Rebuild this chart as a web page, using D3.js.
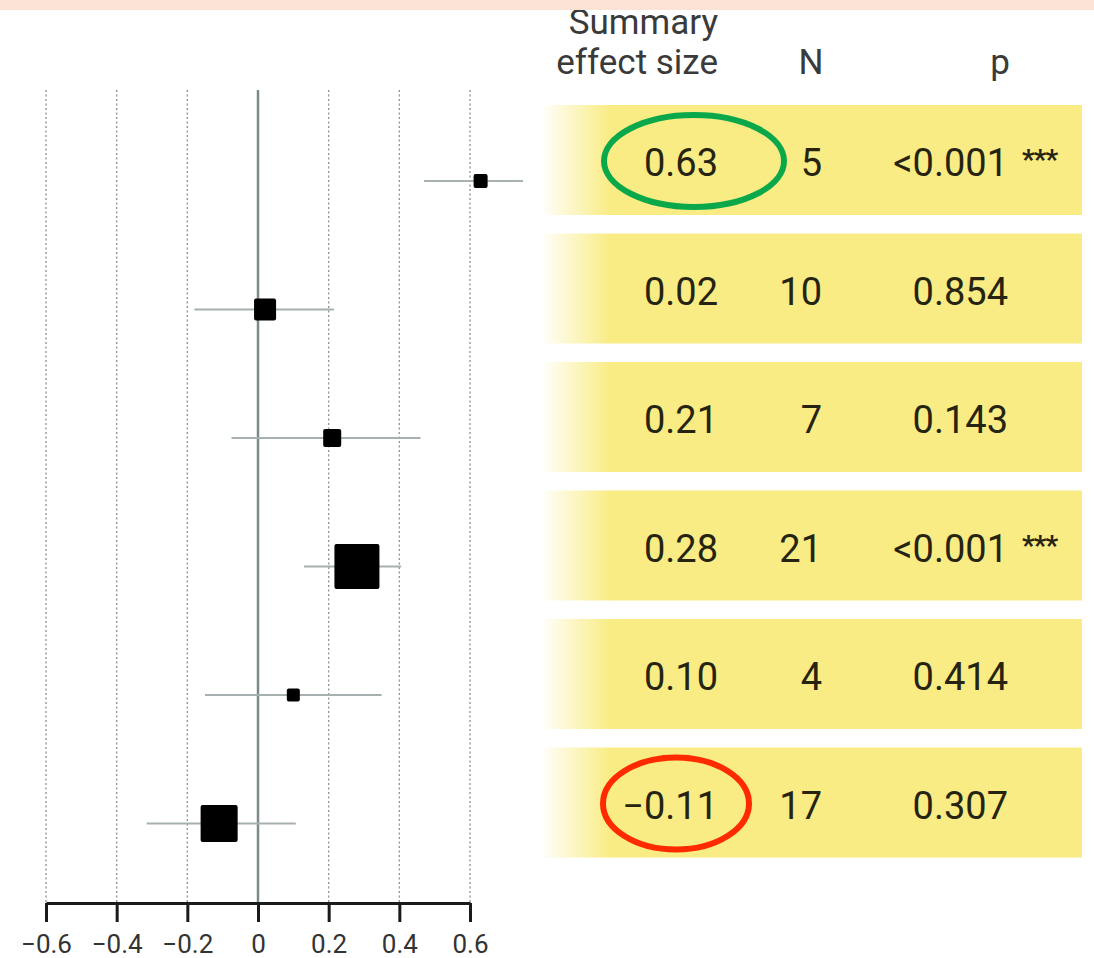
<!DOCTYPE html>
<html>
<head>
<meta charset="utf-8">
<script src="https://cdn.jsdelivr.net/npm/d3@7"></script>
<style>
  html, body { margin: 0; padding: 0; background: #fff; }
  svg { display: block; font-family: Roboto, "Noto Sans", sans-serif; }
</style>
</head>
<body>
<svg id="chart" width="1094" height="958"></svg>
<script>
// summary effect per subgroup
const effects = [0.63, 0.02, 0.21, 0.28, 0.10, -0.11];
const ciLow = [0.47, -0.18, -0.075, 0.13, -0.15, -0.315];
const ciHigh = [0.75, 0.215, 0.46, 0.405, 0.35, 0.107];
const weights = [4.3, 10.6, 7.1, 44.3, 3.7, 30.0];
const nStudies = [5, 10, 7, 21, 4, 17];
const pLabels = ["<0.001", "0.854", "0.143", "<0.001", "0.414", "0.307"];
const stars = ["***", "", "", "***", "", ""];
const xTicks = [-0.6, -0.4, -0.2, 0, 0.2, 0.4, 0.6];
const headers = ["N", "p"];

const W = 1094, H = 958;
const svg = d3.select("#chart");

const x = d3.scaleLinear().domain([-0.6, 0.6]).range([46, 470]);
const rowY = d3.scalePoint().domain(d3.range(effects.length)).range([160, 802.5]);
const size = d3.scaleSqrt().domain([0, 44.3]).range([0, 45]);
const plotTop = 90, axisY = 903;
const markOffset = 21; // squares sit a little below row centre

// yellow fade for table rows
const defs = svg.append("defs");
const grad = defs.append("linearGradient").attr("id", "rowFade")
  .attr("gradientUnits", "userSpaceOnUse").attr("x1", 540).attr("x2", 1082);
grad.append("stop").attr("offset", 0).attr("stop-color", "#f9ec84").attr("stop-opacity", 0);
grad.append("stop").attr("offset", 0.13).attr("stop-color", "#f9ec84").attr("stop-opacity", 1);
grad.append("stop").attr("offset", 1).attr("stop-color", "#f9ec84").attr("stop-opacity", 1);

svg.append("g").selectAll("rect")
  .data(effects)
  .join("rect")
  .attr("x", 540)
  .attr("y", (d, i) => rowY(i) - 55)
  .attr("width", 542)
  .attr("height", 110)
  .attr("fill", "url(#rowFade)");

// gridlines
svg.append("g").selectAll("line")
  .data(xTicks.filter(t => t !== 0))
  .join("line")
  .attr("x1", d => x(d)).attr("x2", d => x(d))
  .attr("y1", plotTop).attr("y2", axisY)
  .attr("stroke", "#8f9696")
  .attr("stroke-width", 1.4)
  .attr("stroke-dasharray", "2,2.5");

svg.append("line")
  .attr("x1", x(0)).attr("x2", x(0))
  .attr("y1", plotTop).attr("y2", axisY)
  .attr("stroke", "#7d8a8a")
  .attr("stroke-width", 2.5);

// axis
const axis = d3.axisBottom(x)
  .tickValues(xTicks)
  .tickSize(19)
  .tickSizeOuter(0)
  .tickPadding(13)
  .tickFormat(d => d === 0 ? "0" : d3.format(".1f")(d));

const gx = svg.append("g")
  .attr("transform", `translate(0,${axisY})`)
  .call(axis);
gx.select(".domain").attr("stroke", "#1a1a1a").attr("stroke-width", 3);
gx.selectAll(".tick line").attr("stroke", "#1a1a1a").attr("stroke-width", 3);
gx.selectAll(".tick text")
  .attr("font-size", 26)
  .attr("font-family", "Roboto, sans-serif")
  .attr("fill", "#333");

// confidence intervals
svg.append("g").selectAll("line")
  .data(effects)
  .join("line")
  .attr("x1", (d, i) => x(ciLow[i]))
  .attr("x2", (d, i) => x(ciHigh[i]))
  .attr("y1", (d, i) => rowY(i) + markOffset)
  .attr("y2", (d, i) => rowY(i) + markOffset)
  .attr("stroke", "#a7b0b0")
  .attr("stroke-width", 2.2);

// effect squares
svg.append("g").selectAll("rect")
  .data(effects)
  .join("rect")
  .attr("x", (d, i) => x(d) - size(weights[i]) / 2)
  .attr("y", (d, i) => rowY(i) + markOffset - size(weights[i]) / 2)
  .attr("width", (d, i) => size(weights[i]))
  .attr("height", (d, i) => size(weights[i]))
  .attr("rx", 2)
  .attr("fill", "#000");

// table text
const fmtEffect = d => d3.format(".2f")(d);
const table = svg.append("g")
  .attr("font-size", 38)
  .attr("fill", "#262410");

table.selectAll("text.eff")
  .data(effects)
  .join("text")
  .attr("class", "eff")
  .attr("x", 718)
  .attr("y", (d, i) => rowY(i) + 16)
  .attr("text-anchor", "end")
  .text(fmtEffect);

table.selectAll("text.n")
  .data(nStudies)
  .join("text")
  .attr("class", "n")
  .attr("x", 822)
  .attr("y", (d, i) => rowY(i) + 16)
  .attr("text-anchor", "end")
  .text(d => d);

table.selectAll("text.p")
  .data(pLabels)
  .join("text")
  .attr("class", "p")
  .attr("x", 1008)
  .attr("y", (d, i) => rowY(i) + 16)
  .attr("text-anchor", "end")
  .text(d => d);

table.selectAll("text.star")
  .data(stars)
  .join("text")
  .attr("class", "star")
  .attr("x", 1022)
  .attr("y", (d, i) => rowY(i) + 9)
  .attr("font-size", 28)
  .attr("font-weight", "bold")
  .attr("letter-spacing", -1)
  .text(d => d);

// headers
const hdr = svg.append("g").attr("font-size", 35).attr("fill", "#3a3a3a");
hdr.append("text").attr("x", 718).attr("y", 34).attr("text-anchor", "end").text("Summary");
hdr.append("text").attr("x", 718).attr("y", 74).attr("text-anchor", "end").text("effect size");
hdr.selectAll("text.col")
  .data(headers)
  .join("text")
  .attr("class", "col")
  .attr("x", (d, i) => [811, 1000][i])
  .attr("y", 74)
  .attr("text-anchor", "middle")
  .text(d => d);

// highlight ellipses
const highlights = [
  { row: 0, cx: 694, rx: 90, color: "#0aa84a" },
  { row: 5, cx: 676, rx: 73, color: "#ff2a00" }
];
svg.append("g").selectAll("ellipse")
  .data(highlights)
  .join("ellipse")
  .attr("cx", d => d.cx)
  .attr("cy", d => rowY(d.row) + 1)
  .attr("rx", d => d.rx)
  .attr("ry", 46)
  .attr("fill", "none")
  .attr("stroke", d => d.color)
  .attr("stroke-width", 6);

// pink strip at the very top
svg.append("rect")
  .attr("x", 0).attr("y", 0)
  .attr("width", W).attr("height", 10)
  .attr("fill", "#fde2d6");
</script>
</body>
</html>
